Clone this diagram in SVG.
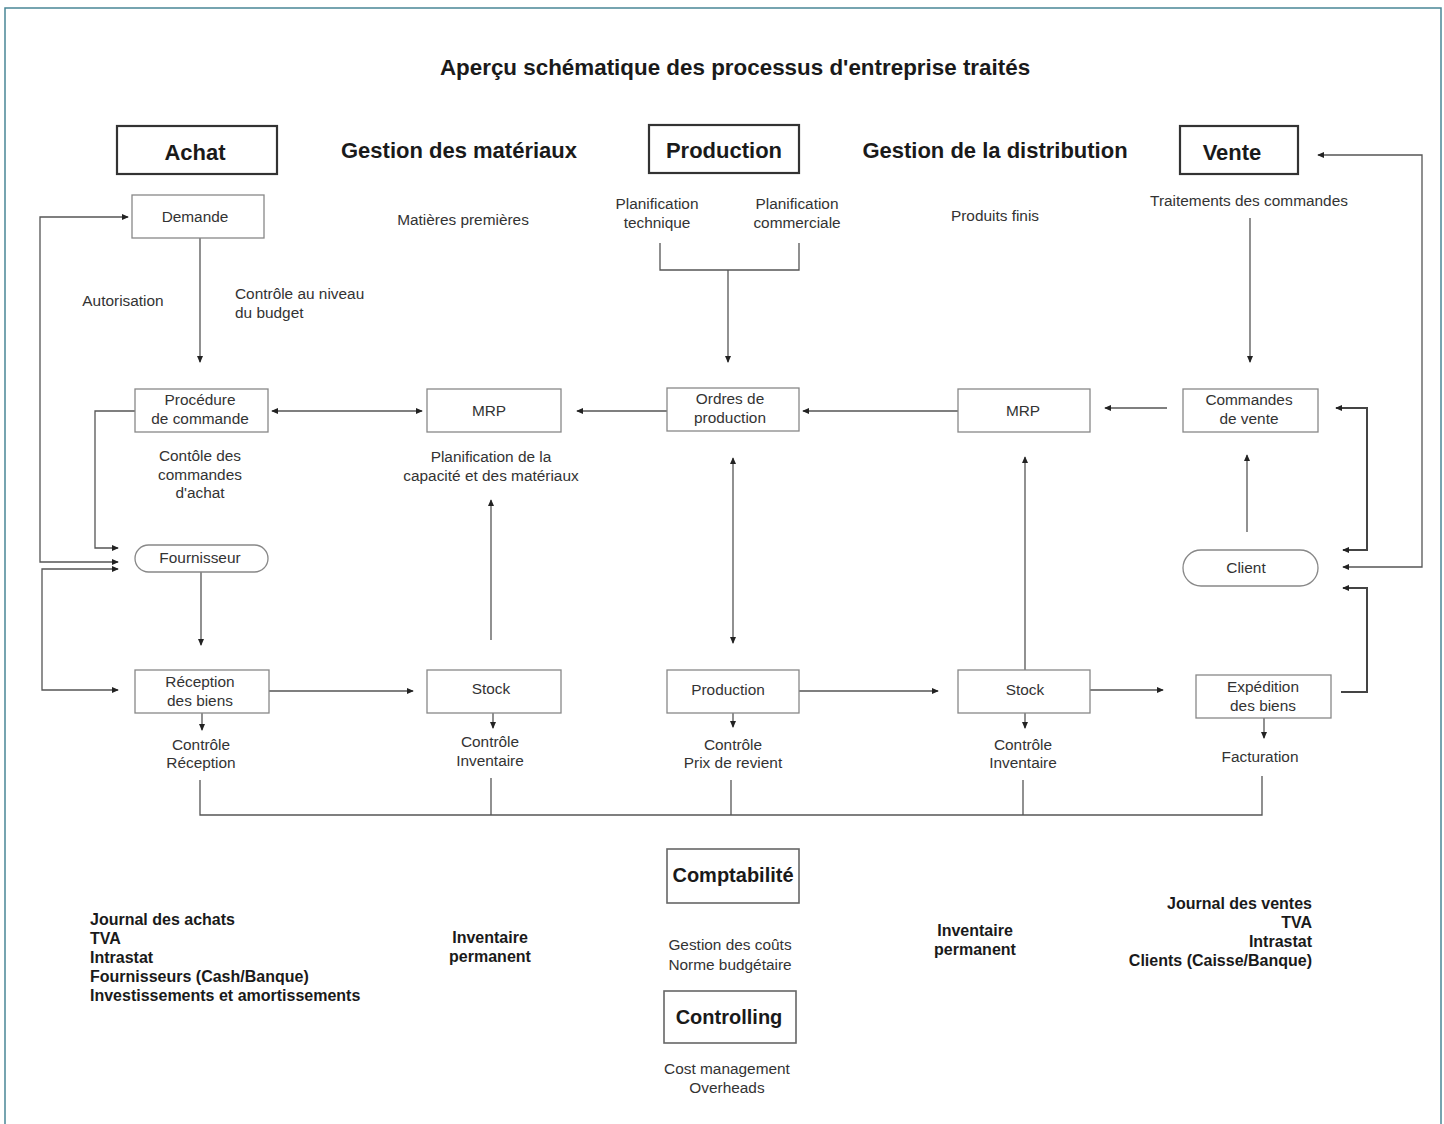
<svg xmlns="http://www.w3.org/2000/svg" width="1444" height="1124" viewBox="0 0 1444 1124">
<defs>
<marker id="ah" viewBox="0 0 8 8" refX="7" refY="4" markerWidth="7" markerHeight="7" markerUnits="userSpaceOnUse" orient="auto-start-reverse">
<path d="M0,0.5 L8,4 L0,7.5 Z" fill="#222"/>
</marker>
<style>
.t{font-family:"Liberation Sans",Arial,sans-serif;font-size:15.4px;fill:#333;text-anchor:middle}
.tl{text-anchor:start}
.b{font-family:"Liberation Sans",Arial,sans-serif;font-weight:bold;fill:#1a1a1a}
.h{font-size:22px;text-anchor:middle}
.bb{font-size:16px}
.box{fill:#fff;stroke:#888;stroke-width:1.3}
.hbox{fill:#fff;stroke:#333;stroke-width:2.2}
.cbox{fill:#fff;stroke:#666;stroke-width:1.6}
.c{fill:none;stroke:#555;stroke-width:1.3}
.c2{fill:none;stroke:#444;stroke-width:2}
.a{marker-end:url(#ah)}
.aa{marker-end:url(#ah);marker-start:url(#ah)}
</style>
</defs>
<rect width="1444" height="1124" fill="#fff"/>
<path d="M5,1124 V8 H1441 V1124" fill="none" stroke="#4a8797" stroke-width="1.5"/>

<text class="b" x="735" y="75" font-size="22.4" text-anchor="middle">Aperçu schématique des processus d'entreprise traités</text>

<g id="connectors">
<path class="c aa" d="M118,562 H40 V217 H128"/>
<path class="c a" d="M135,411 H95 V548 H118"/>
<path class="c aa" d="M118,569 H42 V690 H118"/>
<path class="c a" d="M200,238 V362"/>
<path class="c aa" d="M272,411 H422"/>
<path class="c a" d="M201,572 V645"/>
<path class="c a" d="M269,691 H413"/>
<path class="c a" d="M491,640 V500"/>
<path class="c a" d="M667,411 H577"/>
<path class="c" d="M660,243 V270 H799 V243"/>
<path class="c a" d="M728,270 V362"/>
<path class="c a" d="M958,411 H803"/>
<path class="c aa" d="M733,458 V643"/>
<path class="c a" d="M799,691 H938"/>
<path class="c a" d="M1025,670 V457"/>
<path class="c a" d="M1090,690 H1163"/>
<path class="c a" d="M1167,408 H1105"/>
<path class="c a" d="M1250,218 V362"/>
<path class="c a" d="M1247,532 V455"/>
<path class="c aa" d="M1318,155 H1422 V567 H1343"/>
<path class="c2 aa" d="M1336,408 H1367 V550 H1343"/>
<path class="c2 a" d="M1341,692 H1367 V588 H1343"/>
<path class="c a" d="M202,713 V730"/>
<path class="c a" d="M493,713 V728"/>
<path class="c a" d="M733,713 V727"/>
<path class="c a" d="M1025,713 V728"/>
<path class="c a" d="M1264,718 V738"/>
<path class="c" d="M200,780 V815 H1262 V776"/>
<path class="c" d="M491,778 V815"/>
<path class="c" d="M731,780 V815"/>
<path class="c" d="M1023,780 V815"/>
</g>

<g id="achat"><rect class="hbox" x="117" y="126" width="160" height="48"/><text class="b h" x="195" y="160">Achat</text></g>
<g id="gestion-materiaux"><text class="b h" x="459" y="158">Gestion des matériaux</text></g>
<g id="production-head"><rect class="hbox" x="649" y="125" width="150" height="48"/><text class="b h" x="724" y="158">Production</text></g>
<g id="gestion-distribution"><text class="b h" x="995" y="158">Gestion de la distribution</text></g>
<g id="vente"><rect class="hbox" x="1180" y="126" width="118" height="48"/><text class="b h" x="1232" y="160">Vente</text></g>

<g id="demande"><rect class="box" x="132" y="195" width="132" height="43"/><text class="t" x="195" y="222">Demande</text></g>
<g id="matieres"><text class="t" x="463" y="225">Matières premières</text></g>
<g id="plan-tech"><text class="t" x="657" y="209">Planification</text><text class="t" x="657" y="228">technique</text></g>
<g id="plan-comm"><text class="t" x="797" y="209">Planification</text><text class="t" x="797" y="228">commerciale</text></g>
<g id="produits-finis"><text class="t" x="995" y="221">Produits finis</text></g>
<g id="traitements"><text class="t" x="1249" y="206">Traitements des commandes</text></g>
<g id="autorisation"><text class="t" x="123" y="306">Autorisation</text></g>
<g id="controle-budget"><text class="t tl" x="235" y="299">Contrôle au niveau</text><text class="t tl" x="235" y="318">du budget</text></g>

<g id="procedure"><rect class="box" x="135" y="389" width="133" height="43"/><text class="t" x="200" y="405">Procédure</text><text class="t" x="200" y="424">de commande</text></g>
<g id="mrp1"><rect class="box" x="427" y="389" width="134" height="43"/><text class="t" x="489" y="416">MRP</text></g>
<g id="ordres"><rect class="box" x="667" y="388" width="132" height="43"/><text class="t" x="730" y="404">Ordres de</text><text class="t" x="730" y="423">production</text></g>
<g id="mrp2"><rect class="box" x="958" y="389" width="132" height="43"/><text class="t" x="1023" y="416">MRP</text></g>
<g id="commandes-vente"><rect class="box" x="1183" y="389" width="135" height="43"/><text class="t" x="1249" y="405">Commandes</text><text class="t" x="1249" y="424">de vente</text></g>

<g id="controle-commandes"><text class="t" x="200" y="461">Contôle des</text><text class="t" x="200" y="480">commandes</text><text class="t" x="200" y="498">d'achat</text></g>
<g id="plan-capacite"><text class="t" x="491" y="462">Planification de la</text><text class="t" x="491" y="481">capacité et des matériaux</text></g>

<g id="fournisseur"><rect class="box" x="135" y="545" width="133" height="27" rx="13.5"/><text class="t" x="200" y="563">Fournisseur</text></g>
<g id="client"><rect class="box" x="1183" y="550" width="135" height="36" rx="18"/><text class="t" x="1246" y="573">Client</text></g>

<g id="reception"><rect class="box" x="135" y="670" width="134" height="43"/><text class="t" x="200" y="687">Réception</text><text class="t" x="200" y="706">des biens</text></g>
<g id="stock1"><rect class="box" x="427" y="670" width="134" height="43"/><text class="t" x="491" y="694">Stock</text></g>
<g id="production"><rect class="box" x="667" y="670" width="132" height="43"/><text class="t" x="728" y="695">Production</text></g>
<g id="stock2"><rect class="box" x="958" y="670" width="132" height="43"/><text class="t" x="1025" y="695">Stock</text></g>
<g id="expedition"><rect class="box" x="1196" y="675" width="135" height="43"/><text class="t" x="1263" y="692">Expédition</text><text class="t" x="1263" y="711">des biens</text></g>

<g id="ctrl-reception"><text class="t" x="201" y="750">Contrôle</text><text class="t" x="201" y="768">Réception</text></g>
<g id="ctrl-inv1"><text class="t" x="490" y="747">Contrôle</text><text class="t" x="490" y="766">Inventaire</text></g>
<g id="ctrl-prix"><text class="t" x="733" y="750">Contrôle</text><text class="t" x="733" y="768">Prix de revient</text></g>
<g id="ctrl-inv2"><text class="t" x="1023" y="750">Contrôle</text><text class="t" x="1023" y="768">Inventaire</text></g>
<g id="facturation"><text class="t" x="1260" y="762">Facturation</text></g>

<g id="comptabilite"><rect class="cbox" x="667" y="849" width="132" height="54"/><text class="b" x="733" y="882" font-size="20" text-anchor="middle">Comptabilité</text></g>
<g id="gestion-couts"><text class="t" x="730" y="950">Gestion des coûts</text><text class="t" x="730" y="970">Norme budgétaire</text></g>
<g id="controlling"><rect class="cbox" x="664" y="991" width="132" height="52"/><text class="b" x="729" y="1024" font-size="20" text-anchor="middle">Controlling</text></g>
<g id="cost-mgmt"><text class="t" x="727" y="1074">Cost management</text><text class="t" x="727" y="1093">Overheads</text></g>

<g id="journal-achats" class="b bb">
<text x="90" y="925">Journal des achats</text>
<text x="90" y="944">TVA</text>
<text x="90" y="963">Intrastat</text>
<text x="90" y="982">Fournisseurs (Cash/Banque)</text>
<text x="90" y="1001">Investissements et amortissements</text>
</g>
<g id="inv-perm1" class="b bb" text-anchor="middle"><text x="490" y="943">Inventaire</text><text x="490" y="962">permanent</text></g>
<g id="inv-perm2" class="b bb" text-anchor="middle"><text x="975" y="936">Inventaire</text><text x="975" y="955">permanent</text></g>
<g id="journal-ventes" class="b bb" text-anchor="end">
<text x="1312" y="909">Journal des ventes</text>
<text x="1312" y="928">TVA</text>
<text x="1312" y="947">Intrastat</text>
<text x="1312" y="966">Clients (Caisse/Banque)</text>
</g>
</svg>
